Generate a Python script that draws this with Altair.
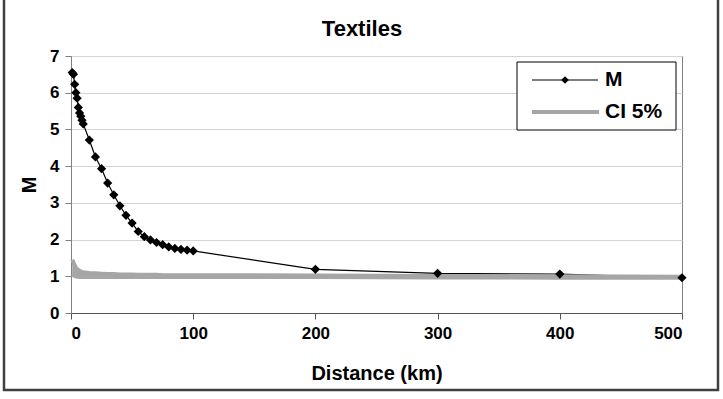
import altair as alt
import pandas as pd

distance = [1, 2, 3, 4, 5, 6, 7, 8, 9, 10, 15, 20, 25, 30, 35, 40, 45, 50, 55, 60,
            65, 70, 75, 80, 85, 90, 95, 100, 200, 300, 400, 500]
m_values = [6.55, 6.50, 6.23, 6.00, 5.85, 5.60, 5.45, 5.36, 5.25, 5.15, 4.71, 4.25,
            3.93, 3.54, 3.22, 2.92, 2.66, 2.45, 2.22, 2.08, 1.99, 1.92, 1.86, 1.80,
            1.76, 1.73, 1.71, 1.69, 1.19, 1.08, 1.06, 0.96]
ci_upper = [1.45, 1.38, 1.30, 1.24, 1.20, 1.17, 1.15, 1.13, 1.12, 1.11, 1.09, 1.08,
            1.07, 1.06, 1.06, 1.05, 1.05, 1.05, 1.04, 1.04, 1.04, 1.04, 1.03, 1.03,
            1.03, 1.03, 1.03, 1.03, 1.02, 1.01, 1.00, 0.99]
ci_lower = [1.05, 1.03, 1.01, 1.00, 0.99, 0.99, 0.98, 0.98, 0.98, 0.98, 0.98, 0.98,
            0.98, 0.98, 0.98, 0.98, 0.98, 0.98, 0.98, 0.98, 0.98, 0.98, 0.98, 0.98,
            0.98, 0.98, 0.98, 0.98, 0.98, 0.97, 0.96, 0.96]
legend_labels = ["M", "CI 5%"]
title_text = "Textiles"
x_title = "Distance (km)"
y_title = "M"

df = pd.DataFrame({"d": distance, "m": m_values, "up": ci_upper, "lo": ci_lower})

W, H = 611, 257
FONT = "Liberation Sans"
GRAY = "#a6a6a6"

x_axis = alt.Axis(values=[0, 100, 200, 300, 400, 500], grid=False, tickSize=6,
                  labelPadding=6, titlePadding=22, domainColor="#555555",
                  tickColor="#555555")
y_axis = alt.Axis(values=[0, 1, 2, 3, 4, 5, 6, 7], grid=True, gridColor="#d4d4d4",
                  tickSize=6, labelPadding=6, titlePadding=10,
                  domainColor="#808080", tickColor="#808080")
xsc = alt.Scale(domain=[0, 500], nice=False)
ysc = alt.Scale(domain=[0, 7], nice=False)


def enc_x():
    return alt.X("d:Q", title=x_title, scale=xsc, axis=x_axis)


def enc_y(field):
    return alt.Y(f"{field}:Q", title=y_title, scale=ysc, axis=y_axis)


base = alt.Chart(df)

m_line = base.mark_line(color="black", strokeWidth=1.2).encode(x=enc_x(), y=enc_y("m"))
ci_area = base.mark_area(color=GRAY).encode(x=enc_x(), y=enc_y("up"), y2="lo:Q")
ci_up = base.mark_line(color=GRAY, strokeWidth=4).encode(x=enc_x(), y=enc_y("up"))
ci_lo = base.mark_line(color=GRAY, strokeWidth=4).encode(x=enc_x(), y=enc_y("lo"))
m_pts = base.mark_point(shape="diamond", filled=True, color="black", size=85,
                        opacity=1).encode(x=enc_x(), y=enc_y("m"))

one = alt.Chart(pd.DataFrame({"k": [0]}))

# outer frame
frame = one.mark_rect(fill=None, stroke="#404040", strokeWidth=2.5, clip=False).encode(
    x=alt.value(-67), x2=alt.value(647), y=alt.value(-62), y2=alt.value(77 + H))

# chart title
title_mark = one.mark_text(align="center", baseline="middle", font=FONT,
                           fontWeight="bold", fontSize=22, color="black").encode(
    x=alt.value(291), y=alt.value(-27), text=alt.value(title_text))

# legend
legend_box = one.mark_rect(fill="white", stroke="black", strokeWidth=1).encode(
    x=alt.value(446), x2=alt.value(605), y=alt.value(6), y2=alt.value(74))
leg_m_line = one.mark_rule(color="black", strokeWidth=1.2).encode(
    x=alt.value(461), x2=alt.value(527), y=alt.value(24))
leg_m_pt = one.mark_point(shape="diamond", filled=True, color="black", size=60,
                          opacity=1).encode(x=alt.value(494), y=alt.value(24))
leg_ci_line = one.mark_rule(color=GRAY, strokeWidth=4).encode(
    x=alt.value(461), x2=alt.value(528), y=alt.value(56))
leg_texts = [
    one.mark_text(align="left", baseline="middle", font=FONT, fontWeight="bold",
                  fontSize=21, color="black").encode(
        x=alt.value(534), y=alt.value(yy), text=alt.value(lab))
    for lab, yy in zip(legend_labels, [24, 56])
]

chart = alt.layer(
    m_line, ci_area, ci_up, ci_lo, m_pts, frame, title_mark,
    legend_box, leg_m_line, leg_m_pt, leg_ci_line, *leg_texts
).properties(
    width=W, height=H,
    background="white",
    autosize=alt.AutoSizeParams(type="none"),
    padding={"left": 71, "top": 56, "right": 41, "bottom": 86},
).configure_view(
    stroke="#808080", strokeWidth=1
).configure_axis(
    labelFont=FONT, labelFontSize=17, labelFontWeight="bold", labelColor="black",
    titleFont=FONT, titleFontSize=20, titleFontWeight="bold", titleColor="black",
)

chart.save("out.html", embed_options={"renderer": "svg", "actions": False})
